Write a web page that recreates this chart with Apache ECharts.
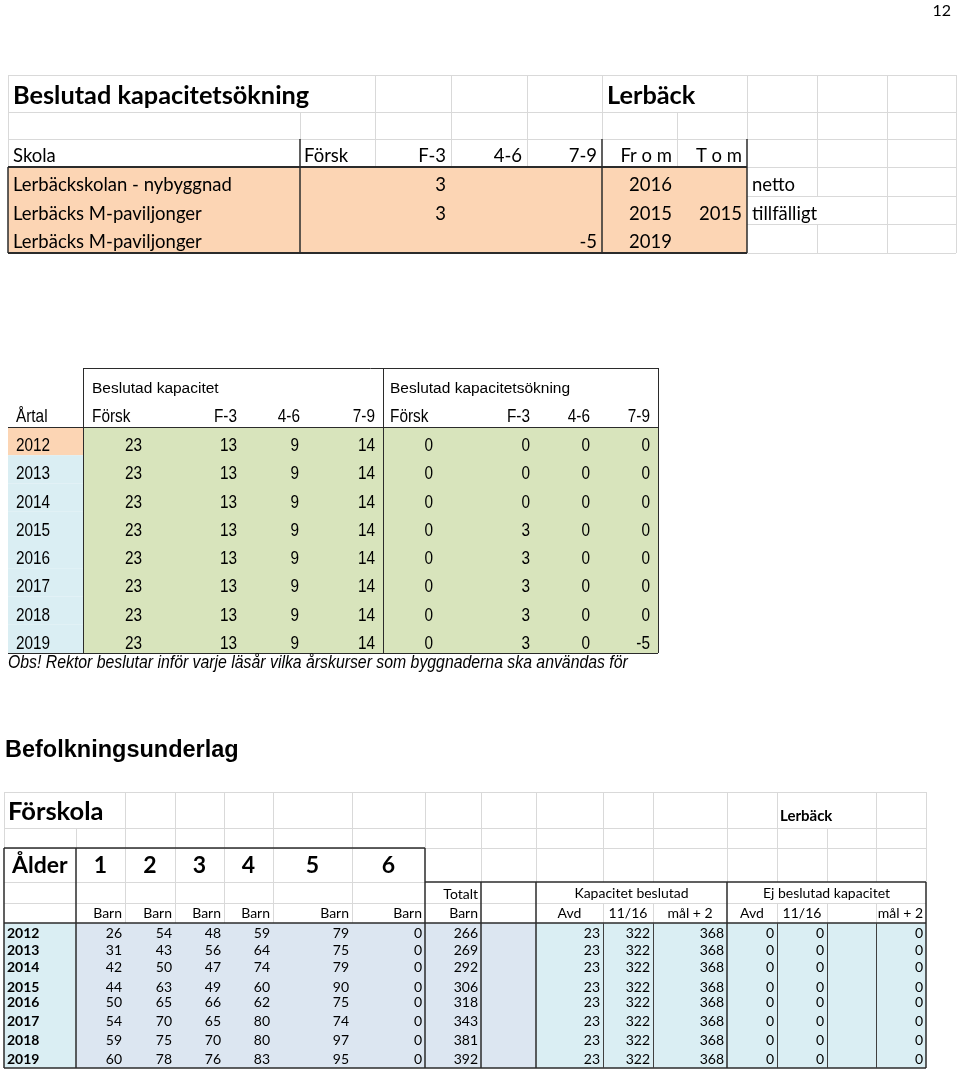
<!DOCTYPE html>
<html>
<head>
<meta charset="utf-8">
<script src="https://cdn.jsdelivr.net/npm/echarts@6/dist/echarts.min.js"></script>
<style>
  html, body { margin: 0; padding: 0; background: #fff; }
  #chart { width: 960px; height: 1074px; }
</style>
</head>
<body>
<div id="chart"></div>
<script>
// ---- data ----
const pageNumber = '12'

const topTitle = 'Beslutad kapacitetsökning'
const topPlace = 'Lerbäck'
const topHeaders = ['Skola', 'Försk', 'F-3', '4-6', '7-9', 'Fr o m', 'T o m']
const topSchools = ['Lerbäckskolan - nybyggnad', 'Lerbäcks M-paviljonger', 'Lerbäcks M-paviljonger']
const topF3 = [3, 3, null]
const top79 = [null, null, -5]
const topFrom = [2016, 2015, 2019]
const topTom = [null, 2015, null]
const topNote = ['netto', 'tillfälligt', '']

const capGroups = ['Beslutad kapacitet', 'Beslutad kapacitetsökning']
const capHeaders = ['Årtal', 'Försk', 'F-3', '4-6', '7-9', 'Försk', 'F-3', '4-6', '7-9']
const capYears = [2012, 2013, 2014, 2015, 2016, 2017, 2018, 2019]
const capForsk = [23, 23, 23, 23, 23, 23, 23, 23]
const capF3 = [13, 13, 13, 13, 13, 13, 13, 13]
const cap46 = [9, 9, 9, 9, 9, 9, 9, 9]
const cap79 = [14, 14, 14, 14, 14, 14, 14, 14]
const incForsk = [0, 0, 0, 0, 0, 0, 0, 0]
const incF3 = [0, 0, 0, 3, 3, 3, 3, 3]
const inc46 = [0, 0, 0, 0, 0, 0, 0, 0]
const inc79 = [0, 0, 0, 0, 0, 0, 0, -5]
const obsNote = 'Obs! Rektor beslutar inför varje läsår vilka årskurser som byggnaderna ska användas för'

const popTitle = 'Befolkningsunderlag'
const popSubTitle = 'Förskola'
const popPlace = 'Lerbäck'
const ageLabel = 'Ålder'
const ages = ['1', '2', '3', '4', '5', '6']
const popYears = [2012, 2013, 2014, 2015, 2016, 2017, 2018, 2019]
const age1 = [26, 31, 42, 44, 50, 54, 59, 60]
const age2 = [54, 43, 50, 63, 65, 70, 75, 78]
const age3 = [48, 56, 47, 49, 66, 65, 70, 76]
const age4 = [59, 64, 74, 60, 62, 80, 80, 83]
const age5 = [79, 75, 79, 90, 75, 74, 97, 95]
const age6 = [0, 0, 0, 0, 0, 0, 0, 0]
const totalBarn = [266, 269, 292, 306, 318, 343, 381, 392]
const kapAvd = [23, 23, 23, 23, 23, 23, 23, 23]
const kap1116 = [322, 322, 322, 322, 322, 322, 322, 322]
const kapMal = [368, 368, 368, 368, 368, 368, 368, 368]
const ejAvd = [0, 0, 0, 0, 0, 0, 0, 0]
const ej1116 = [0, 0, 0, 0, 0, 0, 0, 0]
const ejMal = [0, 0, 0, 0, 0, 0, 0, 0]
const kapGroups = ['Kapacitet beslutad', 'Ej beslutad kapacitet']
const kapHeaders = ['Avd', '11/16', 'mål + 2', 'Avd', '11/16', 'mål + 2']

// ---- layout (page pixels) ----
const CAL = 'Lato, "Open Sans", sans-serif'
const ARI = '"Liberation Sans", Arial, sans-serif'
const LIGHT = '#d9d9d9'
const DARK = '#2b2b2b'
const PEACH = '#fcd5b4'
const GREEN = '#d8e4bc'
const CYAN = '#daeef3'
const STEEL = '#dce6f1'

const tX = [8, 300, 375, 451, 527, 602, 677, 747, 817, 887, 956]
const tY = [75, 112, 139, 167, 196, 224, 253]
const mX = [8, 83, 383, 658]
const mY = [368, 427, 653]
const mRow = 28.25
const bX = [4, 76, 125, 175, 224, 273, 352, 425, 481, 536, 603, 653, 727, 777, 827, 876, 926]
const bY = [792, 828, 848, 882, 903, 923, 1068]
const popRowY = [933, 950, 967, 987, 1002, 1021, 1040, 1059]

const fills = []
const lines = []
const texts = []
const fill = (x0, y0, x1, y1, c) => fills.push([x0, y0, x1, y1, c])
const line = (x0, y0, x1, y1, c, w) => lines.push([x0, y0, x1, y1, c, w || 1])
const txt = (x, y, t, font, align, sx) => texts.push([x, y, String(t), font, align || 'left', sx || 1])
const show = v => (v === null || v === undefined ? '' : v)

txt(951, 11, pageNumber, '16px ' + CAL, 'right')

// top table
fill(tX[0], tY[3], tX[7], tY[6], PEACH)
;[0, 1, 2].forEach(i => line(tX[0], tY[i], tX[10], tY[i], LIGHT))
;[3, 4, 5, 6].forEach(i => line(tX[7], tY[i], tX[10], tY[i], LIGHT))
line(tX[0], tY[0], tX[0], tY[3], LIGHT)
line(tX[1], tY[1], tX[1], tY[2], LIGHT)
;[2, 3, 4].forEach(i => line(tX[i], tY[0], tX[i], tY[3], LIGHT))
line(tX[5], tY[0], tX[5], tY[2], LIGHT)
line(tX[6], tY[1], tX[6], tY[3], LIGHT)
line(tX[7], tY[0], tX[7], tY[2], LIGHT)
line(tX[8], tY[0], tX[8], tY[4], LIGHT)
line(tX[8], tY[5], tX[8], tY[6], LIGHT)
;[9, 10].forEach(i => line(tX[i], tY[0], tX[i], tY[6], LIGHT))
line(tX[0], tY[3], tX[7], tY[3], DARK, 2)
line(tX[0], tY[6], tX[7], tY[6], DARK, 2)
line(tX[0], tY[3], tX[0], tY[6], DARK, 1.5)
;[1, 5, 7].forEach(i => line(tX[i], tY[2], tX[i], tY[6], DARK, 1.5))

const tF = '18.5px ' + CAL
txt(13, 96, topTitle, 'bold 25.3px ' + CAL)
txt(607, 96, topPlace, 'bold 25.3px ' + CAL)
const tRight = [446, 522, 597, 672, 742]
txt(13, 156, topHeaders[0], tF)
txt(304, 156, topHeaders[1], tF)
topHeaders.slice(2).forEach((h, i) => txt(tRight[i], 156, h, tF, 'right'))
topSchools.forEach((s, i) => {
  const y = tY[3 + i] + 18
  txt(13, y, s, tF)
  txt(tRight[0], y, show(topF3[i]), tF, 'right')
  txt(tRight[2], y, show(top79[i]), tF, 'right')
  txt(tRight[3], y, show(topFrom[i]), tF, 'right')
  txt(tRight[4], y, show(topTom[i]), tF, 'right')
  txt(752, y, topNote[i], tF)
})

// middle table
capYears.forEach((yr, i) => {
  const y0 = mY[1] + i * mRow
  fill(mX[0], y0, mX[1], y0 + mRow, i === 0 ? PEACH : CYAN)
})
fill(mX[1], mY[1], mX[3], mY[2], GREEN)
line(mX[1], mY[0], mX[3], mY[0], DARK)
line(mX[0], mY[1], mX[3], mY[1], DARK)
line(mX[0], mY[2], mX[3], mY[2], DARK)
;[1, 2, 3].forEach(i => line(mX[i], mY[0], mX[i], mY[2], DARK))

const mF = '15.5px ' + ARI
const mD = '18.5px ' + ARI
const mSx = 0.83
txt(92, 389, capGroups[0], mF)
txt(390, 389, capGroups[1], mF)
txt(16, 417, capHeaders[0], mD, 'left', mSx)
txt(92, 417, capHeaders[1], mD, 'left', mSx)
txt(390, 417, capHeaders[5], mD, 'left', mSx)
const mHeadRight = { 2: 237, 3: 300, 4: 375, 6: 530, 7: 590, 8: 650 }
Object.keys(mHeadRight).forEach(k => txt(mHeadRight[k], 417, capHeaders[k], mD, 'right', mSx))
const mCols = [capForsk, capF3, cap46, cap79, incForsk, incF3, inc46, inc79]
const mRight = [142, 237, 299, 375, 433, 530, 590, 650]
capYears.forEach((yr, i) => {
  const y = mY[1] + i * mRow + 19
  txt(16, y, yr, mD, 'left', mSx)
  mCols.forEach((col, c) => txt(mRight[c], y, col[i], mD, 'right', mSx))
})
txt(8, 663, obsNote, 'italic 18.5px ' + ARI, 'left', 0.855)

// bottom table
txt(5, 751, popTitle, 'bold 23.5px ' + ARI)
fill(bX[0], bY[5], bX[1], bY[6], CYAN)
fill(bX[1], bY[5], bX[9], bY[6], STEEL)
fill(bX[9], bY[5], bX[16], bY[6], CYAN)

;[0, 1, 2].forEach(i => line(bX[0], bY[i], bX[16], bY[i], LIGHT))
bX.forEach((x, i) => {
  if (i !== 1 && i !== 14) line(x, bY[0], x, bY[1], LIGHT)
  line(x, bY[1], x, bY[2], LIGHT)
  if (i >= 8) line(x, bY[2], x, bY[3], LIGHT)
  if (i >= 2 && i <= 6) line(x, bY[2], x, bY[5], LIGHT)
  if ([10, 11, 13, 14, 15].includes(i)) line(x, bY[4], x, bY[5], LIGHT)
})
line(bX[0], bY[3], bX[7], bY[3], LIGHT)
line(bX[0], bY[4], bX[16], bY[4], LIGHT)

line(bX[0], bY[2], bX[7], bY[2], DARK, 1.5)
line(bX[7], bY[3], bX[16], bY[3], DARK, 1.5)
line(bX[0], bY[5], bX[16], bY[5], DARK, 1.5)
line(bX[0], bY[6], bX[16], bY[6], DARK, 1.5)
;[0, 1, 7].forEach(i => line(bX[i], bY[2], bX[i], bY[6], DARK, 1.5))
;[8, 9, 12, 16].forEach(i => line(bX[i], bY[3], bX[i], bY[6], DARK, 1.5))
;[10, 11, 13, 14, 15].forEach(i => line(bX[i], bY[5], bX[i], bY[6], '#404040'))

const bF = '14px ' + CAL
txt(8, 812, popSubTitle, 'bold 25.5px ' + CAL)
txt(780, 816, popPlace, 'bold 15px ' + CAL)
txt(12, 866, ageLabel, 'bold 23px ' + CAL)
ages.forEach((a, i) => {
  txt((bX[i + 1] + bX[i + 2]) / 2, 866, a, 'bold 23px ' + CAL, 'center')
  txt(bX[i + 2] - 3, 913, 'Barn', bF, 'right')
})
txt(bX[8] - 3, 894, 'Totalt', bF, 'right')
txt(bX[8] - 3, 913, 'Barn', bF, 'right')
txt((bX[9] + bX[12]) / 2, 893, kapGroups[0], bF, 'center')
txt((bX[12] + bX[16]) / 2, 893, kapGroups[1], bF, 'center')
kapHeaders.forEach((h, i) => {
  const c = 9 + i
  if (i === 5) txt(bX[16] - 3, 913, h, bF, 'right')
  else txt((bX[c] + bX[c + 1]) / 2, 913, h, bF, 'center')
})
const bCols = [age1, age2, age3, age4, age5, age6, totalBarn]
const bKap = [[kapAvd, 10], [kap1116, 11], [kapMal, 12], [ejAvd, 13], [ej1116, 14], [ejMal, 16]]
popYears.forEach((yr, i) => {
  const y = popRowY[i]
  txt(7, y, yr, 'bold ' + bF)
  bCols.forEach((col, c) => txt(bX[c + 2] - 3, y, col[i], bF, 'right'))
  bKap.forEach(([col, e]) => txt(bX[e] - 3, y, col[i], bF, 'right'))
})

// ---- chart ----
const chart = echarts.init(document.getElementById('chart'))
const crisp = (v, w) => (w % 2 === 1 ? Math.round(v - 0.5) + 0.5 : Math.round(v))

chart.setOption({
  animation: false,
  grid: { left: 0, right: 0, top: 0, bottom: 0 },
  xAxis: { type: 'value', min: 0, max: 960, show: false },
  yAxis: { type: 'value', min: 0, max: 1074, inverse: true, show: false },
  series: [
    {
      type: 'custom',
      silent: true,
      clip: false,
      data: fills.map(f => [f[0], f[1], f[2], f[3]]),
      renderItem: (params, api) => {
        const f = fills[params.dataIndex]
        const a = api.coord([f[0], f[1]])
        const b = api.coord([f[2], f[3]])
        return {
          type: 'rect',
          shape: { x: a[0], y: a[1], width: b[0] - a[0], height: b[1] - a[1] },
          style: { fill: f[4] }
        }
      }
    },
    {
      type: 'custom',
      silent: true,
      clip: false,
      data: lines.map(l => [l[0], l[1], l[2], l[3]]),
      renderItem: (params, api) => {
        const l = lines[params.dataIndex]
        const a = api.coord([l[0], l[1]])
        const b = api.coord([l[2], l[3]])
        const w = l[5]
        const horiz = a[1] === b[1]
        return {
          type: 'line',
          shape: horiz
            ? { x1: a[0], y1: crisp(a[1], w), x2: b[0], y2: crisp(b[1], w) }
            : { x1: crisp(a[0], w), y1: a[1], x2: crisp(b[0], w), y2: b[1] },
          style: { stroke: l[4], lineWidth: w }
        }
      }
    },
    {
      type: 'custom',
      silent: true,
      clip: false,
      data: texts.map(t => [t[0], t[1]]),
      renderItem: (params, api) => {
        const t = texts[params.dataIndex]
        const p = api.coord([t[0], t[1]])
        return {
          type: 'text',
          x: p[0],
          y: p[1],
          scaleX: t[5],
          style: {
            text: t[2],
            font: t[3],
            fill: '#000',
            align: t[4],
            verticalAlign: 'middle'
          }
        }
      }
    }
  ]
})
</script>
</body>
</html>
